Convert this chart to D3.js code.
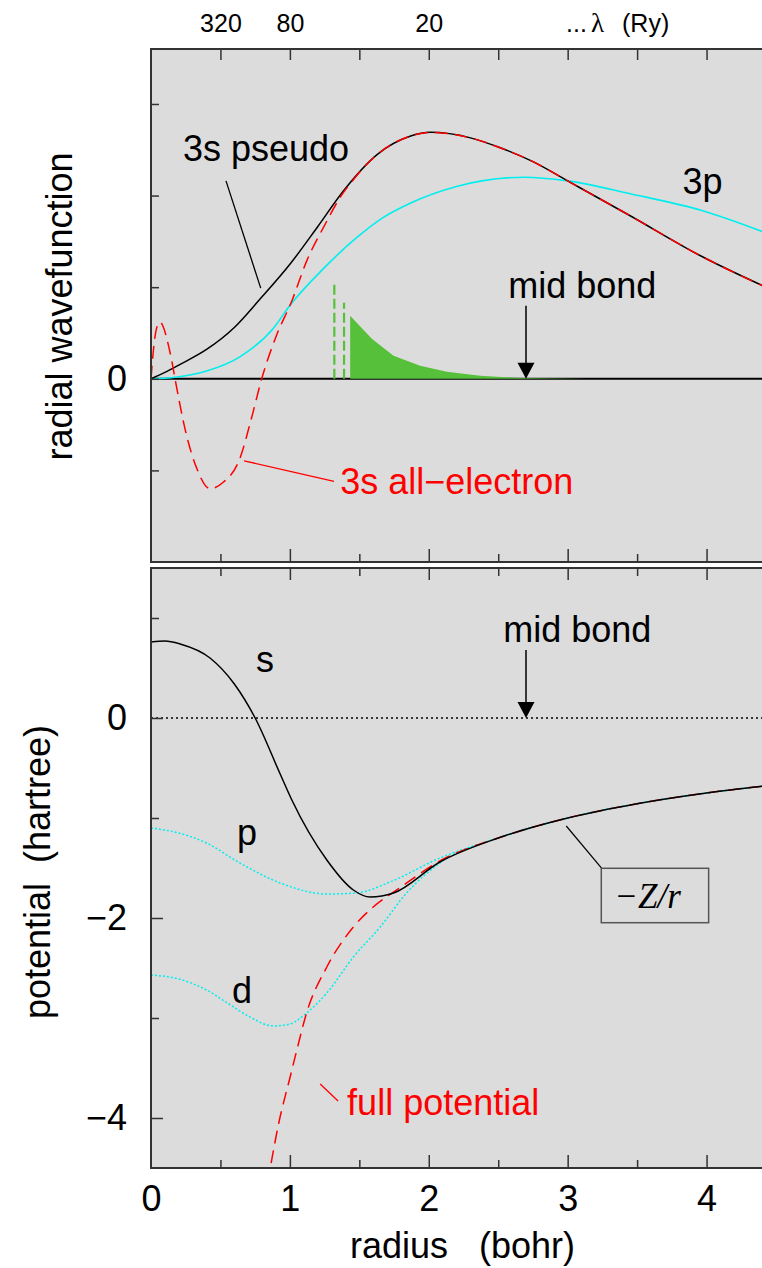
<!DOCTYPE html>
<html>
<head>
<meta charset="utf-8">
<script src="https://cdn.jsdelivr.net/npm/d3@7"></script>
<style>
  body { margin: 0; background: #fff; }
  svg { display: block; }
  text { font-family: "Liberation Sans", Arial, sans-serif; }
</style>
</head>
<body>
<svg id="chart" width="762" height="1268"></svg>
<script>
// ---------- radial wavefunctions (upper panel, arbitrary units) ----------
const pseudoR   = [0, 0.1, 0.2, 0.4, 0.6, 0.785, 1.0, 1.2, 1.385, 1.63, 1.87, 2.01, 2.3, 2.5, 2.75, 3.0, 3.45, 3.96, 4.5];
const pseudo3s  = [0, 0.07, 0.15, 0.32, 0.56, 0.87, 1.25, 1.66, 2.05, 2.45, 2.65, 2.69, 2.63, 2.53, 2.37, 2.16, 1.78, 1.34, 0.95];

const allElR    = [0, 0.02, 0.04, 0.065, 0.09, 0.12, 0.149, 0.173, 0.25, 0.33, 0.425, 0.52, 0.64, 0.72, 0.797, 0.9, 1.014, 1.122, 1.241, 1.362, 1.45, 1.63, 1.87, 2.01, 2.3, 2.5, 2.75, 3.0, 3.45, 3.96, 4.5];
const allEl3s   = [0, 0.35, 0.55, 0.62, 0.56, 0.4, 0.2, 0, -0.58, -0.98, -1.2, -1.13, -0.87, -0.45, 0, 0.46, 0.85, 1.29, 1.65, 1.98, 2.16, 2.45, 2.65, 2.69, 2.63, 2.53, 2.37, 2.16, 1.78, 1.34, 0.95];

const p3R       = [0, 0.16, 0.4, 0.64, 0.88, 1.0, 1.24, 1.48, 1.67, 1.87, 2.2, 2.69, 3.0, 3.45, 3.96, 4.5];
const p3        = [0, 0.014, 0.085, 0.24, 0.55, 0.8, 1.2, 1.54, 1.76, 1.92, 2.1, 2.2, 2.16, 2.02, 1.84, 1.55];

// shaded tail beyond the cutoff
const tailR     = [1.434, 1.59, 1.746, 1.938, 2.13, 2.37, 2.66, 3.14];
const tailV     = [0.687, 0.436, 0.251, 0.142, 0.076, 0.033, 0.008, 0];
// dashed cutoff markers: radius and height
const cutR      = [1.32, 1.39];
const cutH      = [1.03, 0.83];

// top axis: plane-wave cutoff
const lambdaAt     = [0.5, 1, 2];
const lambdaLabels = ["320", "80", "20"];

const midBond = 2.7;

// ---------- potentials (lower panel, hartree) ----------
const sR   = [0, 0.1, 0.21, 0.425, 0.6, 0.75, 0.93, 1.014, 1.266, 1.457, 1.578, 1.746, 2.08, 2.5, 3.0, 3.5, 4.0, 4.5];
const sV   = [0.76, 0.77, 0.74, 0.6, 0.34, 0, -0.56, -0.82, -1.42, -1.72, -1.79, -1.75, -1.44, -1.2, -1.0, -0.857, -0.75, -0.667];

const pR   = [0, 0.2, 0.4, 0.64, 0.93, 1.266, 1.48, 1.72, 2.08, 2.5, 3.0, 3.5, 4.0, 4.5];
const pV   = [-1.10, -1.15, -1.25, -1.45, -1.65, -1.76, -1.75, -1.64, -1.40, -1.2, -1.0, -0.857, -0.75, -0.667];

const dR   = [0, 0.2, 0.4, 0.55, 0.7, 0.88, 1.0, 1.12, 1.266, 1.457, 1.65, 1.84, 2.08, 2.5, 3.0, 3.5, 4.0, 4.5];
const dV   = [-2.57, -2.61, -2.72, -2.85, -2.98, -3.08, -3.06, -2.95, -2.75, -2.39, -2.09, -1.75, -1.45, -1.2, -1.0, -0.857, -0.75, -0.667];

const fullR = [0.84, 0.92, 1.0, 1.05, 1.12, 1.266, 1.457, 1.6, 1.79, 2.08, 2.5, 3.0, 3.5, 4.0, 4.5];
const fullV = [-4.65, -4.05, -3.6, -3.32, -2.95, -2.49, -2.09, -1.89, -1.70, -1.43, -1.2, -1.0, -0.857, -0.75, -0.667];

const xMajor = [1, 2, 3, 4];
const xMinor = [0.5, 1.5, 2.5, 3.5];
const xHalf  = [0.5, 1, 1.5, 2, 2.5, 3, 3.5, 4];

// ---------- layout ----------
const svg = d3.select("#chart");
const left = 151, right = 776;
const top1 = 49, bot1 = 562;
const top2 = 568, bot2 = 1168;

const x  = d3.scaleLinear().domain([0, 4.5]).range([left, right]);
const y1 = d3.scaleLinear().domain([-2, 3.6]).range([bot1, top1]);
const y2 = d3.scaleLinear().domain([-4.5, 1.5]).range([bot2, top2]);

const RED = "#ff0000", CYAN = "#00eeee", GREEN = "#56c03a", FRAME = "#333";
const FONT = "Liberation Sans, Arial, sans-serif";
const num = d3.format("~g");
const zip = (a, b) => a.map((v, i) => [v, b[i]]);

function panel(y0, y1p, id) {
  svg.append("rect").attr("x", left).attr("y", y0).attr("width", right - left + 20)
    .attr("height", y1p - y0).attr("fill", "#dcdcdc");
  svg.append("clipPath").attr("id", id).append("rect")
    .attr("x", left).attr("y", y0).attr("width", right - left + 20).attr("height", y1p - y0);
}
function frame(y0, y1p) {
  svg.append("path")
    .attr("d", `M${right + 20},${y0}H${left}V${y1p}H${right + 20}`)
    .attr("fill", "none").attr("stroke", FRAME).attr("stroke-width", 2);
}
function ticks(axis, transform) {
  svg.append("g").attr("transform", transform).call(axis)
    .call(g => g.select(".domain").remove())
    .call(g => g.selectAll(".tick line").attr("stroke", FRAME).attr("stroke-width", 1.5));
}
function labels(axis, transform, size) {
  svg.append("g").attr("transform", transform).call(axis)
    .call(g => g.select(".domain").remove())
    .call(g => g.selectAll("text").attr("font-size", size).attr("fill", "#000").attr("font-family", FONT));
}

panel(top1, bot1, "clipTop");
panel(top2, bot2, "clipBot");

// ---------- upper panel ----------
const gT = svg.append("g").attr("clip-path", "url(#clipTop)");
const lineT = d3.line().x(d => x(d[0])).y(d => y1(d[1])).curve(d3.curveMonotoneX);

// zero line
gT.append("line").attr("x1", x(0)).attr("x2", right + 20).attr("y1", y1(0)).attr("y2", y1(0))
  .attr("stroke", "#000").attr("stroke-width", 2);

// green tail and cutoff markers
gT.append("path")
  .attr("d", d3.area().x(d => x(d[0])).y0(y1(0)).y1(d => y1(d[1]))(zip(tailR, tailV)))
  .attr("fill", GREEN);
gT.selectAll(".cut").data(zip(cutR, cutH)).join("line")
  .attr("x1", d => x(d[0])).attr("x2", d => x(d[0]))
  .attr("y1", y1(0)).attr("y2", d => y1(d[1]))
  .attr("stroke", GREEN).attr("stroke-width", 2.2).attr("stroke-dasharray", "10,4");

gT.append("path").attr("d", lineT(zip(p3R, p3)))
  .attr("fill", "none").attr("stroke", CYAN).attr("stroke-width", 1.6);
gT.append("path").attr("d", lineT(zip(pseudoR, pseudo3s)))
  .attr("fill", "none").attr("stroke", "#000").attr("stroke-width", 1.5);
gT.append("path").attr("d", lineT(zip(allElR, allEl3s)))
  .attr("fill", "none").attr("stroke", RED).attr("stroke-width", 1.5).attr("stroke-dasharray", "13,7");

// ticks of the upper frame
ticks(d3.axisBottom(x).tickValues(xHalf).tickSize(11).tickFormat(""), `translate(0,${top1})`);
ticks(d3.axisTop(x).tickValues(xMajor).tickSize(13).tickFormat(""), `translate(0,${bot1})`);
ticks(d3.axisTop(x).tickValues(xMinor).tickSize(8).tickFormat(""), `translate(0,${bot1})`);
ticks(d3.axisRight(y1).tickValues([-1, 0, 1, 2, 3]).tickSize(8).tickFormat(""), `translate(${left},0)`);
frame(top1, bot1);

// top axis labels
labels(d3.axisTop(x).tickValues(lambdaAt).tickSize(0).tickPadding(17)
  .tickFormat((d, i) => lambdaLabels[i]), `translate(0,${top1})`, 25);
svg.append("text").attr("x", 566).attr("y", 32).attr("font-size", 25).text("...");
svg.append("text").attr("x", 591).attr("y", 32).attr("font-size", 27)
  .style("font-family", "'Liberation Serif', 'DejaVu Serif', serif").text("λ");
svg.append("text").attr("x", 622).attr("y", 32).attr("font-size", 25).text("(Ry)");

// y labels
labels(d3.axisLeft(y1).tickValues([0]).tickSize(0).tickPadding(24).tickFormat(num),
  `translate(${left},0)`, 36);
svg.append("text").attr("transform", `translate(72,${(top1 + bot1) / 2 + 1}) rotate(-90)`)
  .attr("text-anchor", "middle").attr("font-size", 36).text("radial wavefunction");

// annotations
svg.append("text").attr("x", x(0.2305)).attr("y", y1(2.38)).attr("font-size", 36).text("3s pseudo");
svg.append("line").attr("x1", x(0.54)).attr("y1", y1(2.16)).attr("x2", x(0.79)).attr("y2", y1(0.99))
  .attr("stroke", "#000").attr("stroke-width", 1.3);
svg.append("text").attr("x", x(3.826)).attr("y", y1(2.02)).attr("font-size", 36).text("3p");
svg.append("text").attr("x", x(1.362)).attr("y", y1(-1.255)).attr("font-size", 36)
  .attr("fill", RED).text("3s all\u2212electron");
svg.append("line").attr("x1", x(0.67)).attr("y1", y1(-0.895)).attr("x2", x(1.318)).attr("y2", y1(-1.12))
  .attr("stroke", RED).attr("stroke-width", 1.3);

function arrow(yScale, yText, textX) {
  const ax = x(midBond), base = yScale(0);
  svg.append("text").attr("x", x(textX)).attr("y", yScale(yText)).attr("font-size", 36).text("mid bond");
  svg.append("line").attr("x1", ax).attr("x2", ax).attr("y1", yScale(yText) + 8).attr("y2", base - 12)
    .attr("stroke", "#000").attr("stroke-width", 1.5);
  svg.append("path").attr("d", `M${ax - 8.5},${base - 16}L${ax + 8.5},${base - 16}L${ax},${base}Z`)
    .attr("fill", "#000");
}
arrow(y1, 0.884, 2.572);

// ---------- lower panel ----------
const gB = svg.append("g").attr("clip-path", "url(#clipBot)");
const lineB = d3.line().x(d => x(d[0])).y(d => y2(d[1])).curve(d3.curveMonotoneX);

gB.append("line").attr("x1", x(0)).attr("x2", right + 20).attr("y1", y2(0)).attr("y2", y2(0))
  .attr("stroke", "#000").attr("stroke-width", 1.5).attr("stroke-dasharray", "2,3");

gB.append("path").attr("d", lineB(zip(pR, pV)))
  .attr("fill", "none").attr("stroke", CYAN).attr("stroke-width", 1.5).attr("stroke-dasharray", "2,2");
gB.append("path").attr("d", lineB(zip(dR, dV)))
  .attr("fill", "none").attr("stroke", CYAN).attr("stroke-width", 1.5).attr("stroke-dasharray", "2,2");
gB.append("path").attr("d", lineB(zip(fullR, fullV)))
  .attr("fill", "none").attr("stroke", RED).attr("stroke-width", 1.5).attr("stroke-dasharray", "13,7");
gB.append("path").attr("d", lineB(zip(sR, sV)))
  .attr("fill", "none").attr("stroke", "#000").attr("stroke-width", 1.5);

ticks(d3.axisBottom(x).tickValues(xMajor).tickSize(12).tickFormat(""), `translate(0,${top2})`);
ticks(d3.axisBottom(x).tickValues(xMinor).tickSize(8).tickFormat(""), `translate(0,${top2})`);
ticks(d3.axisTop(x).tickValues(xMajor).tickSize(13).tickFormat(""), `translate(0,${bot2})`);
ticks(d3.axisTop(x).tickValues(xMinor).tickSize(8).tickFormat(""), `translate(0,${bot2})`);
ticks(d3.axisRight(y2).tickValues([0, -2, -4]).tickSize(12).tickFormat(""), `translate(${left},0)`);
ticks(d3.axisRight(y2).tickValues([1, -1, -3]).tickSize(8).tickFormat(""), `translate(${left},0)`);
frame(top2, bot2);

labels(d3.axisLeft(y2).tickValues([0, -2, -4]).tickSize(0).tickPadding(24).tickFormat(num),
  `translate(${left},0)`, 36);
labels(d3.axisBottom(x).tickValues([0, 1, 2, 3, 4]).tickSize(0).tickPadding(17).tickFormat(num),
  `translate(0,${bot2})`, 36);

svg.append("text").attr("transform", `translate(50,${(top2 + bot2) / 2 + 4}) rotate(-90)`)
  .attr("text-anchor", "middle").attr("font-size", 36).style("white-space", "pre")
  .text("potential  (hartree)");
svg.append("text").attr("x", 350).attr("y", 1258).attr("font-size", 36).text("radius");
svg.append("text").attr("x", 479).attr("y", 1258).attr("font-size", 36).text("(bohr)");

// curve labels
svg.append("text").attr("x", x(0.756)).attr("y", y2(0.46)).attr("font-size", 36).text("s");
svg.append("text").attr("x", x(0.62)).attr("y", y2(-1.27)).attr("font-size", 36).text("p");
svg.append("text").attr("x", x(0.584)).attr("y", y2(-2.85)).attr("font-size", 36).text("d");
svg.append("text").attr("x", x(1.412)).attr("y", y2(-3.97)).attr("font-size", 36)
  .attr("fill", RED).text("full potential");
svg.append("line").attr("x1", x(1.218)).attr("y1", y2(-3.66)).attr("x2", x(1.347)).attr("y2", y2(-3.83))
  .attr("stroke", RED).attr("stroke-width", 1.3);

arrow(y2, 0.76, 2.536);

// boxed -Z/r label with leader
svg.append("line").attr("x1", x(2.99)).attr("y1", y2(-1.08)).attr("x2", x(3.247)).attr("y2", y2(-1.507))
  .attr("stroke", "#000").attr("stroke-width", 1.2);
svg.append("rect").attr("x", x(3.242)).attr("y", y2(-1.503))
  .attr("width", x(4.015) - x(3.242)).attr("height", y2(-2.047) - y2(-1.503))
  .attr("fill", "none").attr("stroke", "#555").attr("stroke-width", 1.5);
svg.append("text").attr("x", x(3.336)).attr("y", y2(-1.9)).attr("font-size", 35)
  .style("font-family", "'Liberation Serif', 'Times New Roman', serif").style("font-style", "italic")
  .text("\u2212Z/r");
</script>
</body>
</html>
